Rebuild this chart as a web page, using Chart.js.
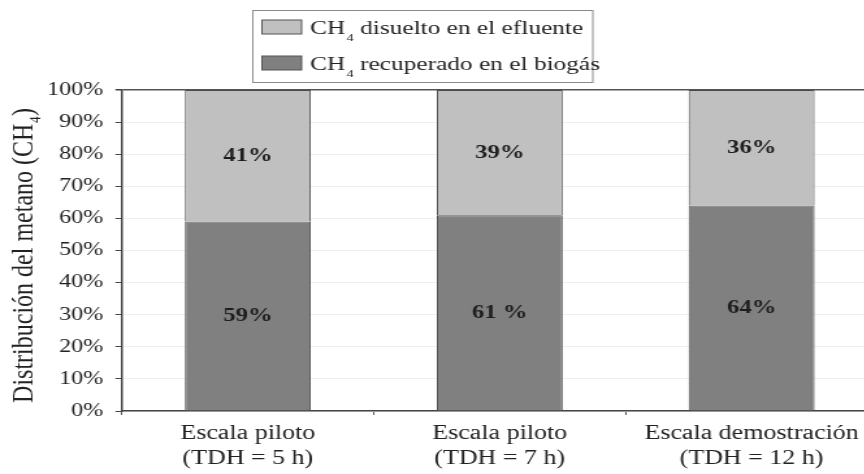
<!DOCTYPE html>
<html>
<head>
<meta charset="utf-8">
<script src="https://cdn.jsdelivr.net/npm/chart.js@4.4.0/dist/chart.umd.min.js"></script>
<style>
  html, body { margin: 0; padding: 0; background: #fff; overflow: hidden; width: 864px; height: 474px; }
  /* the figure is drawn narrow and widened horizontally */
  #wrap { width: 675px; height: 474px; transform: scaleX(1.3); transform-origin: 0 0; }
  canvas { display: block; }
</style>
</head>
<body>
<div id="wrap"><canvas id="c" width="675" height="474"></canvas></div>
<script>
// Methane distribution per reactor scale
const categories = [
  ['Escala piloto', '(TDH = 5 h)'],
  ['Escala piloto', '(TDH = 7 h)'],
  ['Escala demostración', '(TDH = 12 h)']
];
const recoveredBiogas = [59, 61, 64];   // CH4 recuperado en el biogás (%)
const dissolvedEffluent = [41, 39, 36]; // CH4 disuelto en el efluente (%)
const yTickValues = [0, 10, 20, 30, 40, 50, 60, 70, 80, 90, 100];
const legendItems = [
  { prefix: 'CH', sub: '4', rest: ' disuelto en el efluente', fill: '#c0c0c0' },
  { prefix: 'CH', sub: '4', rest: ' recuperado en el biogás', fill: '#808080' }
];
const yTitle = { main: 'Distribución del metano (CH', sub: '4', end: ')' };
// typeset gap before the percent sign, per dataset and bar
const percentGap = [['', ' ', ''], ['', '', '']];

const SERIF = '"Liberation Serif", "Times New Roman", serif';

// Percent labels centred inside every stacked segment
const segmentLabels = {
  id: 'segmentLabels',
  afterDatasetsDraw(chart) {
    const ctx = chart.ctx;
    ctx.save();
    ctx.font = 'bold 19px ' + SERIF;
    ctx.fillStyle = '#1e1e1e';
    ctx.textAlign = 'center';
    ctx.textBaseline = 'middle';
    chart.data.datasets.forEach((ds, i) => {
      chart.getDatasetMeta(i).data.forEach((bar, j) => {
        const y = (bar.y + bar.base) / 2;
        ctx.fillText(ds.data[j] + percentGap[i][j] + '%', bar.x, y);
      });
    });
    ctx.restore();
  }
};

// Rotated axis title with subscripted formula
const verticalTitle = {
  id: 'verticalTitle',
  afterDraw(chart) {
    const ctx = chart.ctx;
    const area = chart.chartArea;
    ctx.save();
    const big = '24px ' + SERIF, small = '13px ' + SERIF;
    ctx.font = big;
    const w1 = ctx.measureText(yTitle.main).width;
    const w3 = ctx.measureText(yTitle.end).width;
    ctx.font = small;
    const w2 = ctx.measureText(yTitle.sub).width + 1;
    const total = w1 + w2 + w3;
    ctx.translate(24.6, (area.top + area.bottom) / 2 + 5);
    ctx.rotate(-Math.PI / 2);
    ctx.fillStyle = '#222';
    ctx.textAlign = 'left';
    ctx.textBaseline = 'alphabetic';
    let x = -total / 2;
    ctx.font = big;
    ctx.fillText(yTitle.main, x, 0);
    x += w1;
    ctx.font = small;
    ctx.fillText(yTitle.sub, x + 0.5, 6);
    x += w2;
    ctx.font = big;
    ctx.fillText(yTitle.end, x, 0);
    ctx.restore();
  }
};

// Boxed two-row legend with subscripted formula
const boxedLegend = {
  id: 'boxedLegend',
  afterDraw(chart) {
    const ctx = chart.ctx;
    ctx.save();
    const bx = 194.5, by = 10.5, bw = 261.5, bh = 72;
    ctx.strokeStyle = '#8a8a8a';
    ctx.lineWidth = 1;
    ctx.strokeRect(bx, by, bw, bh);
    legendItems.forEach((it, k) => {
      const cy = 27 + k * 36;
      ctx.fillStyle = it.fill;
      ctx.fillRect(201.5, cy - 7, 30.5, 14);
      ctx.strokeStyle = '#555';
      ctx.lineWidth = 1;
      ctx.strokeRect(201.5, cy - 7, 30.5, 14);
      ctx.fillStyle = '#222';
      ctx.textBaseline = 'alphabetic';
      ctx.textAlign = 'left';
      let x = 238.5;
      const base = cy + 7;
      ctx.font = '19.5px ' + SERIF;
      ctx.fillText(it.prefix, x, base);
      x += ctx.measureText(it.prefix).width + 1;
      ctx.font = '11px ' + SERIF;
      ctx.fillText(it.sub, x, base + 7);
      x += ctx.measureText(it.sub).width;
      ctx.font = '19.5px ' + SERIF;
      ctx.fillText(it.rest, x, base);
    });
    ctx.restore();
  }
};

new Chart(document.getElementById('c'), {
  type: 'bar',
  data: {
    labels: categories,
    datasets: [
      {
        label: 'CH4 recuperado en el biogás',
        data: recoveredBiogas,
        backgroundColor: '#808080',
        borderColor: '#4a4a4a',
        borderWidth: 1,
        barPercentage: 0.5,
        categoryPercentage: 1.0
      },
      {
        label: 'CH4 disuelto en el efluente',
        data: dissolvedEffluent,
        backgroundColor: '#c0c0c0',
        borderColor: '#4a4a4a',
        borderWidth: 1,
        barPercentage: 0.5,
        categoryPercentage: 1.0
      }
    ]
  },
  options: {
    responsive: false,
    animation: false,
    layout: { padding: { top: 90, right: 0, left: 0, bottom: 0 } },
    plugins: {
      legend: { display: false },
      tooltip: { enabled: false },
      title: { display: false }
    },
    scales: {
      x: {
        stacked: true,
        offset: true,
        grid: {
          display: true,
          drawOnChartArea: false,
          drawTicks: true,
          tickLength: 4,
          tickColor: '#555',
          offset: true
        },
        border: { display: true, color: '#444', width: 1.5 },
        ticks: {
          color: '#222',
          font: { family: SERIF, size: 20, lineHeight: 1.25 },
          padding: 6,
          maxRotation: 0,
          autoSkip: false
        },
        afterFit(scale) { scale.height = 63; }
      },
      y: {
        stacked: true,
        min: 0,
        max: 100,
        afterBuildTicks(scale) { scale.ticks = yTickValues.map(v => ({ value: v })); },
        grid: {
          color: c => (c.tick && c.tick.value === 100 ? '#555' : '#efefef'),
          lineWidth: c => (c.tick && c.tick.value === 100 ? 1.5 : 1),
          drawTicks: true,
          tickLength: 5,
          tickColor: '#444'
        },
        border: { display: true, color: '#444', width: 1.5 },
        ticks: {
          color: '#222',
          font: { family: SERIF, size: 18.5 },
          padding: 9.5,
          callback: v => v + '%'
        },
        title: { display: false },
        afterFit(scale) { scale.width = 93.8; }
      }
    }
  },
  plugins: [segmentLabels, verticalTitle, boxedLegend]
});
</script>
</body>
</html>
